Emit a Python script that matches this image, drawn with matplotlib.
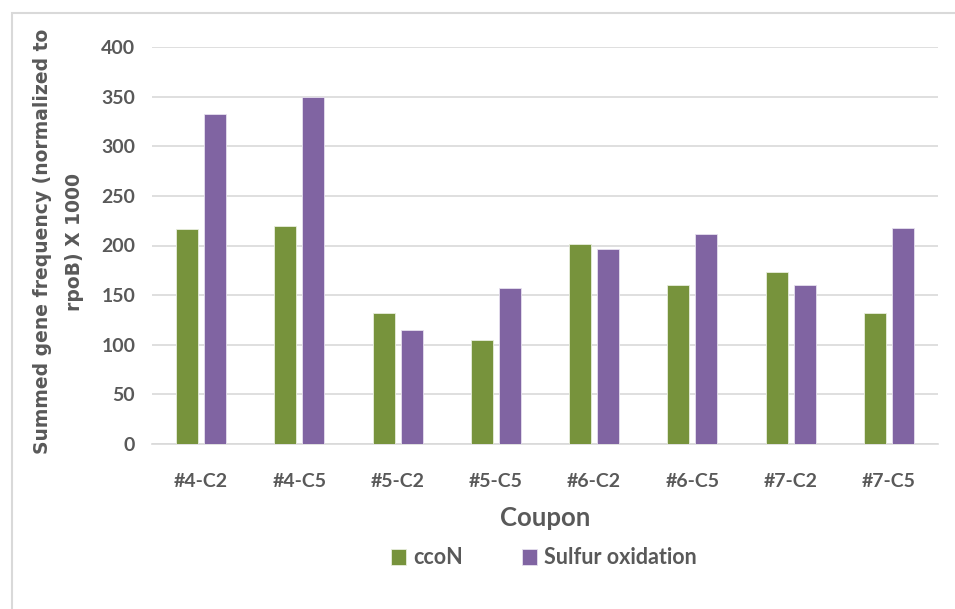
import numpy as np
import matplotlib.pyplot as plt
from matplotlib.patches import Rectangle

coupons = ["#4-C2", "#4-C5", "#5-C2", "#5-C5", "#6-C2", "#6-C5", "#7-C2", "#7-C5"]
ccon = [217, 220, 132, 105, 202, 160, 173, 132]
sulfur = [332, 350, 115, 157, 196, 212, 160, 218]

green = "#77933C"
purple = "#8064A2"
grey = "#595959"

fig = plt.figure(figsize=(9.55, 6.09), dpi=100)
# light frame round the chart area
fig.patches.append(Rectangle((12/955, -0.1), 1.1, 1 - 13/609 + 0.1, transform=fig.transFigure,
                             fill=False, edgecolor="#D9D9D9", linewidth=1.5))

ax = fig.add_axes([152/955, 1 - 444/609, (938 - 152)/955, (444 - 47)/609])
x = np.arange(len(coupons))
w = 0.225
off = 0.142
ax.bar(x - off, ccon, w, color=green, edgecolor="#E8EEDD", linewidth=0.6, label="ccoN", zorder=3)
ax.bar(x + off, sulfur, w, color=purple, edgecolor="#E6E0EE", linewidth=0.6, label="Sulfur oxidation", zorder=3)

ax.set_xlim(-0.5, len(coupons) - 0.5)
ax.set_ylim(0, 400)
ax.set_yticks(range(0, 401, 50))
ax.set_xticks(x)
ax.set_xticklabels(coupons)
ax.grid(axis="y", color="#D9D9D9", linewidth=1.2, zorder=0)
for s in ["top", "right", "left"]:
    ax.spines[s].set_visible(False)
ax.spines["bottom"].set_color("#D9D9D9")
ax.spines["bottom"].set_linewidth(1.2)
ax.tick_params(axis="both", length=0, labelcolor=grey)
ax.tick_params(axis="x", pad=21)
ax.tick_params(axis="y", pad=12)
for lab in ax.get_xticklabels() + ax.get_yticklabels():
    lab.set_fontfamily("Lato")
    lab.set_fontweight("bold")
    lab.set_fontsize(14)

ax.set_ylabel("Summed gene frequency (normalized to\nrpoB) X 1000", fontsize=13.5, fontweight="bold",
              color=grey, fontfamily="DejaVu Sans", linespacing=1.85)
ax.yaxis.set_label_coords((84 - 152)/786, 0.51)
ax.set_xlabel("Coupon", fontsize=18.5, fontweight="bold", color=grey, fontfamily="Lato")
ax.xaxis.set_label_coords(0.5, -(518 - 444)/397)
ax.xaxis.label.set_va("center")

fig.legend(loc="center", bbox_to_anchor=(544/955, 1 - 558/609), ncol=2, frameon=False,
           handlelength=0.7, handleheight=0.7, handletextpad=0.35, columnspacing=2.7,
           prop={"family": "Lato", "weight": "bold", "size": 15.5}, labelcolor=grey)

fig.savefig("out.png", dpi=100)
